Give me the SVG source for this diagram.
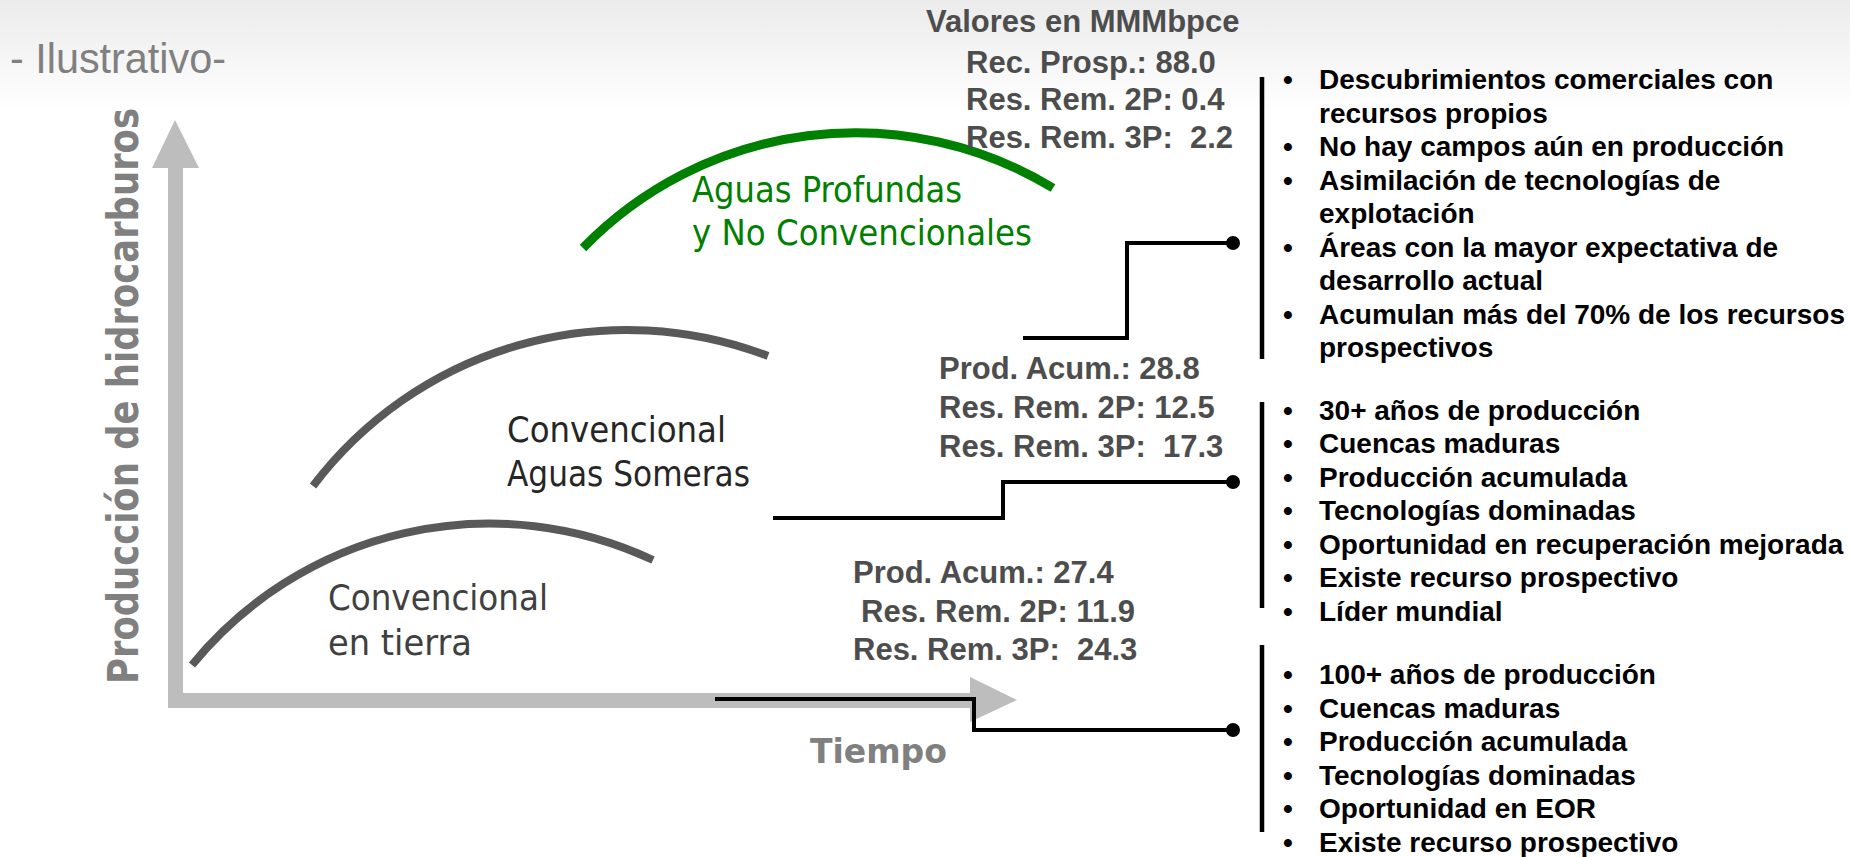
<svg xmlns="http://www.w3.org/2000/svg" width="1850" height="857" viewBox="0 0 1850 857">
<defs>
<linearGradient id="bg" x1="0" y1="0" x2="0" y2="1">
<stop offset="0" stop-color="#ebebeb"/>
<stop offset="1" stop-color="#ffffff"/>
</linearGradient>
</defs>
<style>
.val{font-family:"Liberation Sans",Arial,sans-serif;font-weight:bold;font-size:31px;fill:#4d4d4d;white-space:pre}
.bul{font-family:"Liberation Sans",Arial,sans-serif;font-weight:bold;font-size:28px;fill:#000}
.lbl{font-family:"DejaVu Sans",Verdana,sans-serif;font-size:35px}
.ax{fill:#bdbdbd}
.axl{font-family:"DejaVu Sans",Verdana,sans-serif;font-weight:bold;fill:#808080}
.curve{fill:none;stroke:#595959;stroke-width:8}
.conn{fill:none;stroke:#000;stroke-width:4}
.bar{stroke:#000;stroke-width:4.5}
</style>
<rect x="0" y="0" width="1850" height="857" fill="#fff"/>
<rect x="0" y="0" width="1850" height="110" fill="url(#bg)"/>

<text x="10" y="73" font-family="Liberation Sans, Arial, sans-serif" font-size="43" fill="#808080" textLength="216" lengthAdjust="spacingAndGlyphs">- Ilustrativo-</text>

<g id="axes">
<rect class="ax" x="168" y="166" width="15" height="542"/>
<polygon class="ax" points="175,120 199,168 152,168"/>
<rect class="ax" x="168" y="693" width="803" height="15"/>
<polygon class="ax" points="970,677 1017,700 970,722"/>
<text class="axl" font-size="33" x="810" y="763">Tiempo</text>
<text class="axl" font-size="42" transform="translate(138,684) rotate(-90)" textLength="576" lengthAdjust="spacingAndGlyphs">Producción de hidrocarburos</text>
</g>

<g id="curve-tierra">
<path class="curve" d="M192,665 A384,384 0 0,1 653,560"/>
<text class="lbl" fill="#404040" x="328" y="610" textLength="220" lengthAdjust="spacingAndGlyphs">Convencional</text>
<text class="lbl" fill="#404040" x="328" y="655" textLength="144" lengthAdjust="spacingAndGlyphs">en tierra</text>
</g>

<g id="curve-someras">
<path class="curve" d="M313,486 A394,394 0 0,1 768,356"/>
<text class="lbl" fill="#262626" x="507" y="442" textLength="219" lengthAdjust="spacingAndGlyphs">Convencional</text>
<text class="lbl" fill="#262626" x="507" y="486" textLength="243" lengthAdjust="spacingAndGlyphs">Aguas Someras</text>
</g>

<g id="curve-profundas">
<path d="M583,248 A380,380 0 0,1 1053,188" fill="none" stroke="#008000" stroke-width="9"/>
<text class="lbl" fill="#008000" x="692" y="202" textLength="270" lengthAdjust="spacingAndGlyphs">Aguas Profundas</text>
<text class="lbl" fill="#008000" x="692" y="245" textLength="340" lengthAdjust="spacingAndGlyphs">y No Convencionales</text>
</g>

<g id="values-profundas">
<text class="val" x="926" y="32">Valores en MMMbpce</text>
<text class="val" x="966" y="73">Rec. Prosp.: 88.0</text>
<text class="val" x="966" y="110">Res. Rem. 2P: 0.4</text>
<text class="val" x="966" y="148" xml:space="preserve">Res. Rem. 3P:  2.2</text>
</g>

<g id="values-someras">
<text class="val" x="939" y="379">Prod. Acum.: 28.8</text>
<text class="val" x="939" y="418">Res. Rem. 2P: 12.5</text>
<text class="val" x="939" y="457" xml:space="preserve">Res. Rem. 3P:  17.3</text>
</g>

<g id="values-tierra">
<text class="val" x="853" y="583">Prod. Acum.: 27.4</text>
<text class="val" x="861" y="622">Res. Rem. 2P: 11.9</text>
<text class="val" x="853" y="660" xml:space="preserve">Res. Rem. 3P:  24.3</text>
</g>

<g id="connectors">
<path class="conn" d="M1023,338 H1127 V243 H1233"/>
<circle cx="1233" cy="243" r="7"/>
<path class="conn" d="M773,518 H1003 V482 H1233"/>
<circle cx="1233" cy="482" r="7"/>
<path class="conn" d="M715,699 H974 V730 H1233"/>
<circle cx="1233" cy="730" r="7"/>
</g>

<g id="list-profundas">
<line class="bar" x1="1262" y1="77" x2="1262" y2="359"/>
<text class="bul" x="1283" y="89">•</text><text class="bul" x="1319" y="89">Descubrimientos comerciales con</text>
<text class="bul" x="1319" y="122.5">recursos propios</text>
<text class="bul" x="1283" y="156">•</text><text class="bul" x="1319" y="156">No hay campos aún en producción</text>
<text class="bul" x="1283" y="189.5">•</text><text class="bul" x="1319" y="189.5">Asimilación de tecnologías de</text>
<text class="bul" x="1319" y="223">explotación</text>
<text class="bul" x="1283" y="256.5">•</text><text class="bul" x="1319" y="256.5">Áreas con la mayor expectativa de</text>
<text class="bul" x="1319" y="290">desarrollo actual</text>
<text class="bul" x="1283" y="323.5">•</text><text class="bul" x="1319" y="323.5">Acumulan más del 70% de los recursos</text>
<text class="bul" x="1319" y="357">prospectivos</text>
</g>

<g id="list-someras">
<line class="bar" x1="1262" y1="402" x2="1262" y2="608"/>
<text class="bul" x="1283" y="419.5">•</text><text class="bul" x="1319" y="419.5">30+ años de producción</text>
<text class="bul" x="1283" y="453">•</text><text class="bul" x="1319" y="453">Cuencas maduras</text>
<text class="bul" x="1283" y="486.5">•</text><text class="bul" x="1319" y="486.5">Producción acumulada</text>
<text class="bul" x="1283" y="520">•</text><text class="bul" x="1319" y="520">Tecnologías dominadas</text>
<text class="bul" x="1283" y="553.5">•</text><text class="bul" x="1319" y="553.5">Oportunidad en recuperación mejorada</text>
<text class="bul" x="1283" y="587">•</text><text class="bul" x="1319" y="587">Existe recurso prospectivo</text>
<text class="bul" x="1283" y="620.5">•</text><text class="bul" x="1319" y="620.5">Líder mundial</text>
</g>

<g id="list-tierra">
<line class="bar" x1="1262" y1="645" x2="1262" y2="832"/>
<text class="bul" x="1283" y="684">•</text><text class="bul" x="1319" y="684">100+ años de producción</text>
<text class="bul" x="1283" y="717.5">•</text><text class="bul" x="1319" y="717.5">Cuencas maduras</text>
<text class="bul" x="1283" y="751">•</text><text class="bul" x="1319" y="751">Producción acumulada</text>
<text class="bul" x="1283" y="784.5">•</text><text class="bul" x="1319" y="784.5">Tecnologías dominadas</text>
<text class="bul" x="1283" y="818">•</text><text class="bul" x="1319" y="818">Oportunidad en EOR</text>
<text class="bul" x="1283" y="851.5">•</text><text class="bul" x="1319" y="851.5">Existe recurso prospectivo</text>
</g>
</svg>
